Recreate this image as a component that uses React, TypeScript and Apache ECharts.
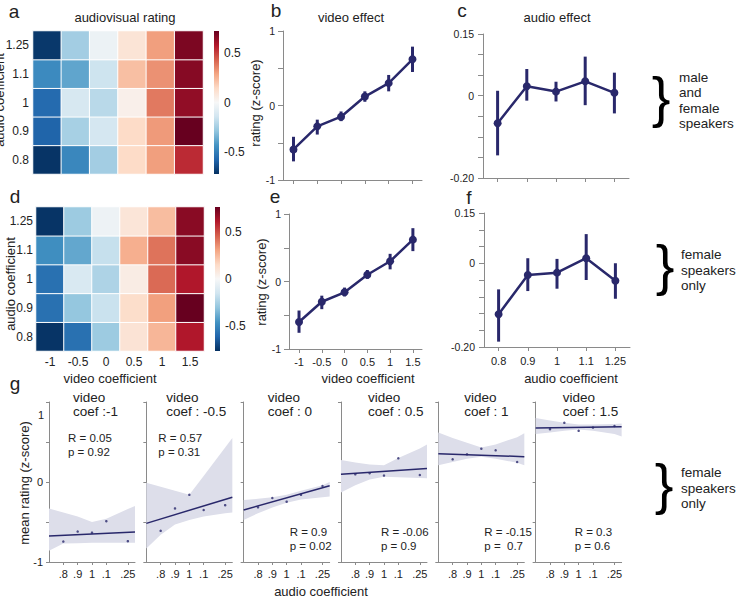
import React, { useEffect, useRef } from 'react';
import * as echarts from 'echarts';

// ---------- data ----------
const videoCoefs = [-1, -0.5, 0, 0.5, 1, 1.5];
const videoLabels = ['-1', '-0.5', '0', '0.5', '1', '1.5'];
const audioCoefs = [0.8, 0.9, 1, 1.1, 1.25];
const audioLabels = ['0.8', '0.9', '1', '1.1', '1.25'];
const audioShortLabels = ['.8', '.9', '1', '.1', '.25'];

// heatmap rows: audio 0.8 (bottom) ... 1.25 (top); columns video -1 ... 1.5
const heatA = [
  [-0.71, -0.47, -0.25, 0.14, 0.30, 0.54],
  [-0.58, -0.24, -0.13, 0.14, 0.31, 0.72],
  [-0.56, -0.12, -0.20, 0.04, 0.38, 0.64],
  [-0.46, -0.38, -0.15, 0.22, 0.33, 0.66],
  [-0.70, -0.25, -0.04, 0.10, 0.30, 0.68],
];
const heatD = [
  [-0.76, -0.58, -0.28, 0.11, 0.26, 0.62],
  [-0.58, -0.30, -0.17, 0.14, 0.32, 0.77],
  [-0.58, -0.12, -0.24, 0.06, 0.44, 0.62],
  [-0.48, -0.40, -0.18, 0.28, 0.42, 0.70],
  [-0.76, -0.28, -0.04, 0.10, 0.24, 0.70],
];
const heatARange = 0.72;
const heatDRange = 0.77;
const colorbarTicks = [-0.5, 0, 0.5];

// b: video effect, male and female speakers
const videoEffectAll = [-0.59, -0.28, -0.15, 0.12, 0.30, 0.62];
const videoEffectAllLo = [-0.75, -0.39, -0.21, 0.05, 0.19, 0.45];
const videoEffectAllHi = [-0.42, -0.19, -0.08, 0.19, 0.41, 0.79];
// e: video effect, female speakers only
const videoEffectFem = [-0.60, -0.30, -0.16, 0.10, 0.30, 0.62];
const videoEffectFemLo = [-0.76, -0.41, -0.22, 0.04, 0.18, 0.45];
const videoEffectFemHi = [-0.43, -0.21, -0.09, 0.17, 0.41, 0.79];
// c: audio effect, male and female speakers
const audioEffectAll = [-0.067, 0.023, 0.010, 0.035, 0.007];
const audioEffectAllLo = [-0.145, -0.012, -0.014, -0.023, -0.043];
const audioEffectAllHi = [0.012, 0.065, 0.034, 0.095, 0.056];
// f: audio effect, female speakers only
const audioEffectFem = [-0.152, -0.035, -0.028, 0.015, -0.052];
const audioEffectFemLo = [-0.234, -0.083, -0.076, -0.050, -0.106];
const audioEffectFemHi = [-0.078, 0.015, 0.013, 0.087, 0.0];

// g: per video coefficient, mean rating vs audio coefficient
const gCoefLabels = ['coef :-1', 'coef : -0.5', 'coef : 0', 'coef : 0.5', 'coef : 1', 'coef : 1.5'];
const gPoints = [
  [-0.745, -0.62, -0.633, -0.49, -0.74],
  [-0.61, -0.33, -0.16, -0.35, -0.29],
  [-0.317, -0.20, -0.246, -0.16, -0.05],
  [0.096, 0.11, 0.08, 0.296, 0.088],
  [0.283, 0.346, 0.417, 0.396, 0.25],
  [0.66, 0.74, 0.64, 0.68, 0.70],
];
const gFitX = [0.7, 1.3];
const gFit = [
  [-0.675, -0.625],
  [-0.517, -0.19],
  [-0.35, -0.046],
  [0.096, 0.17],
  [0.354, 0.317],
  [0.675, 0.69],
];
const gBandX = [0.7, 0.8, 0.9, 1.0, 1.1, 1.25, 1.3];
const gBandUpper = [
  [-0.33, -0.38, -0.43, -0.50, -0.46, -0.336, -0.30],
  [-0.01, -0.06, -0.11, -0.16, 0.075, 0.43, 0.55],
  [-0.225, -0.21, -0.19, -0.16, -0.11, -0.04, 0.0],
  [0.275, 0.245, 0.22, 0.21, 0.30, 0.42, 0.47],
  [0.62, 0.55, 0.49, 0.43, 0.47, 0.56, 0.61],
  [0.80, 0.77, 0.74, 0.72, 0.72, 0.725, 0.73],
];
const gBandLower = [
  [-0.86, -0.77, -0.765, -0.76, -0.76, -0.758, -0.758],
  [-0.83, -0.66, -0.53, -0.475, -0.43, -0.39, -0.38],
  [-0.475, -0.39, -0.32, -0.26, -0.22, -0.19, -0.18],
  [-0.13, -0.04, 0.03, 0.065, 0.06, 0.05, 0.046],
  [0.21, 0.25, 0.29, 0.315, 0.29, 0.24, 0.21],
  [0.60, 0.62, 0.64, 0.655, 0.64, 0.60, 0.57],
];
const gR = ['0.05', '0.57', '0.9', '-0.06', '-0.15', '0.3'];
const gP = ['0.92', '0.31', '0.02', '0.9', ' 0.7', '0.6'];

// ---------- style ----------
const NAVY = '#29286b';
const AXIS = '#8a8a8a';
const TEXT = '#222222';
const BAND = '#dddeea';
const FONT = '"Liberation Sans", Arial, Helvetica, sans-serif';
const RDBU = ['#053061', '#2166ac', '#4393c3', '#92c5de', '#d1e5f0', '#f7f7f7', '#fddbc7', '#f4a582', '#d6604d', '#b2182b', '#67001f'];

const gLeft = (i: number) => 49 + i * 97.33;
const gTitleOffset = [24, 20, 24, 27, 26, 27];
const gStatOffset = [19, 12, 46, 40, 46, 39];
const gStatTop = [438, 438, 532, 532, 532, 532];

const near = (a: number, b: number) => Math.abs(a - b) < 1e-6;

function txt(text: string, x: number, y: number, size: number, extra: any = {}, rot = 0) {
  const align = extra.align || 'center';
  const va = extra.va || 'middle';
  return {
    type: 'text',
    x,
    y,
    rotation: rot,
    silent: true,
    style: {
      text,
      fontSize: size,
      fontFamily: FONT,
      fill: extra.fill || TEXT,
      fontWeight: extra.weight || 'normal',
      lineHeight: extra.lineHeight,
      align,
      verticalAlign: va,
      textAlign: align,
      textVerticalAlign: va,
    },
  };
}

function buildOption() {
  const grid: any[] = [];
  const xAxis: any[] = [];
  const yAxis: any[] = [];
  const series: any[] = [];
  const graphic: any[] = [];

  const addGrid = (g: any) => {
    grid.push({ ...g, outerBoundsMode: 'none', containLabel: false });
    return grid.length - 1;
  };
  const axisLine = { show: true, onZero: false, lineStyle: { color: AXIS, width: 1 } };
  const tick = (len: number, extra: any = {}) => ({ show: true, length: len, lineStyle: { color: AXIS, width: 1 }, ...extra });
  const lbl = (show: boolean, size: number, margin: number, extra: any = {}) => ({
    show, fontSize: size, margin, color: TEXT, fontFamily: FONT, ...extra,
  });
  const noSplit = { show: false };

  // ---- heatmaps ----
  const heatmap = (g: any, data: number[][], showX: boolean, yMargin: number) => {
    const gi = addGrid(g);
    xAxis.push({
      gridIndex: gi, type: 'category', data: videoLabels,
      axisLine: { show: false }, axisTick: { show: false },
      axisLabel: lbl(showX, 12, 5), splitLine: noSplit,
    });
    yAxis.push({
      gridIndex: gi, type: 'category', data: audioLabels,
      axisLine: { show: false }, axisTick: { show: false },
      axisLabel: lbl(true, 12, yMargin), splitLine: noSplit,
    });
    series.push({
      type: 'heatmap', xAxisIndex: gi, yAxisIndex: gi,
      data: data.flatMap((row, r) => row.map((v, c) => [c, r, v])),
      itemStyle: { borderColor: '#ffffff', borderWidth: 1 },
      emphasis: { disabled: true },
    });
    return series.length - 1;
  };
  const sA = heatmap({ left: 33, top: 31, width: 170, height: 143 }, heatA, false, 4);
  const sD = heatmap({ left: 36, top: 207, width: 168, height: 144 }, heatD, true, 3);

  // ---- colorbars ----
  const colorbar = (g: any, range: number) => {
    const gi = addGrid(g);
    xAxis.push({ gridIndex: gi, type: 'value', show: false, min: 0, max: 1 });
    yAxis.push({
      gridIndex: gi, type: 'value', min: -range, max: range, position: 'right',
      axisLine: { show: false },
      axisTick: { show: true, length: 3, customValues: colorbarTicks, lineStyle: { color: '#333', width: 1 } },
      axisLabel: lbl(true, 12, 5, { customValues: colorbarTicks }),
      splitLine: noSplit,
    });
    series.push({
      type: 'custom', xAxisIndex: gi, yAxisIndex: gi, silent: true,
      data: [[0.5, 0]],
      renderItem: (params: any) => {
        const cs = params.coordSys;
        return {
          type: 'rect',
          shape: { x: cs.x, y: cs.y, width: cs.width, height: cs.height },
          style: {
            fill: new echarts.graphic.LinearGradient(0, 1, 0, 0,
              RDBU.map((c, i) => ({ offset: i / (RDBU.length - 1), color: c }))),
          },
        };
      },
    });
  };
  colorbar({ left: 214, top: 31, width: 5, height: 143 }, heatARange);
  colorbar({ left: 215, top: 207, width: 5, height: 144 }, heatDRange);

  // ---- error bar helper ----
  const errorBars = (gi: number, xs: number[], lo: number[], hi: number[]) => ({
    type: 'custom', xAxisIndex: gi, yAxisIndex: gi, silent: true, z: 3,
    data: xs.map((x, i) => [x, lo[i], hi[i]]),
    renderItem: (params: any, api: any) => {
      const p1 = api.coord([api.value(0), api.value(1)]);
      const p2 = api.coord([api.value(0), api.value(2)]);
      return {
        type: 'line',
        shape: { x1: p1[0], y1: p1[1], x2: p2[0], y2: p2[1] },
        style: { stroke: NAVY, lineWidth: 3 },
      };
    },
  });
  const meanLine = (gi: number, data: any[]) => ({
    type: 'line', xAxisIndex: gi, yAxisIndex: gi, z: 4, silent: true,
    data, symbol: 'circle', symbolSize: 8,
    itemStyle: { color: NAVY }, lineStyle: { color: NAVY, width: 2.5 },
  });

  // ---- video effect panels (b, e) ----
  const videoPanel = (g: any, mean: number[], lo: number[], hi: number[], showX: boolean) => {
    const gi = addGrid(g);
    xAxis.push({
      gridIndex: gi, type: 'value', min: -1.22, max: 1.7,
      axisLine, axisTick: tick(4, { customValues: videoCoefs }),
      axisLabel: lbl(showX, 11, 7, {
        customValues: videoCoefs,
        formatter: (v: number) => videoLabels[videoCoefs.findIndex((c) => near(c, v))] ?? '',
      }),
      splitLine: noSplit,
    });
    yAxis.push({
      gridIndex: gi, type: 'value', min: -1, max: 1, interval: 0.5,
      axisLine, axisTick: tick(5),
      axisLabel: lbl(true, 10.5, 8, {
        formatter: (v: number) => (near(v, 1) ? '1' : near(v, 0) ? '0' : near(v, -1) ? '-1' : ''),
      }),
      splitLine: noSplit,
    });
    series.push(errorBars(gi, videoCoefs, lo, hi));
    series.push(meanLine(gi, videoCoefs.map((x, i) => [x, mean[i]])));
  };
  videoPanel({ left: 283, top: 31, width: 139, height: 149 }, videoEffectAll, videoEffectAllLo, videoEffectAllHi, false);
  videoPanel({ left: 289, top: 214, width: 133, height: 135 }, videoEffectFem, videoEffectFemLo, videoEffectFemHi, true);

  // ---- audio effect panels (c, f) ----
  const audioPanel = (g: any, mean: number[], lo: number[], hi: number[], showX: boolean, ymin: number, minLabel: string) => {
    const gi = addGrid(g);
    xAxis.push({
      gridIndex: gi, type: 'category', data: audioLabels, boundaryGap: true,
      axisLine, axisTick: tick(4, { alignWithLabel: true }),
      axisLabel: lbl(showX, 11, 8),
      splitLine: noSplit,
    });
    yAxis.push({
      gridIndex: gi, type: 'value', min: ymin, max: 0.15, interval: 0.05,
      axisLine, axisTick: tick(5),
      axisLabel: lbl(true, 10.5, 9, {
        formatter: (v: number) => (near(v, 0.15) ? '0.15' : near(v, 0) ? '0' : near(v, ymin) ? minLabel : ''),
      }),
      splitLine: noSplit,
    });
    series.push(errorBars(gi, audioCoefs.map((_, i) => i), lo, hi));
    series.push(meanLine(gi, mean));
  };
  audioPanel({ left: 483, top: 34, width: 146, height: 144 }, audioEffectAll, audioEffectAllLo, audioEffectAllHi, false, -0.2, '-0.20');
  audioPanel({ left: 484, top: 213, width: 146, height: 134 }, audioEffectFem, audioEffectFemLo, audioEffectFemHi, true, -0.25, '-0.20');

  // ---- g panels ----
  gPoints.forEach((pts, k) => {
    const gi = addGrid({ left: gLeft(k), top: 402, width: 86, height: 160 });
    xAxis.push({
      gridIndex: gi, type: 'value', min: 0.7, max: 1.3,
      axisLine, axisTick: tick(3, { customValues: audioCoefs }),
      axisLabel: lbl(true, 11, 6, {
        customValues: audioCoefs,
        formatter: (v: number) => audioShortLabels[audioCoefs.findIndex((c) => near(c, v))] ?? '',
      }),
      splitLine: noSplit,
    });
    yAxis.push({
      gridIndex: gi, type: 'value', min: -1, max: 1, interval: 0.5,
      axisLine, axisTick: tick(3),
      axisLabel: lbl(k === 0, 11, 6, {
        formatter: (v: number) => (near(v, 0) ? '0' : near(v, -1) ? '-1' : ''),
      }),
      splitLine: noSplit,
    });
    const up = gBandUpper[k];
    const lo = gBandLower[k];
    series.push({
      type: 'custom', xAxisIndex: gi, yAxisIndex: gi, silent: true, z: 1,
      data: [[1, 0]],
      renderItem: (params: any, api: any) => {
        const points: number[][] = [];
        gBandX.forEach((x, i) => points.push(api.coord([x, up[i]])));
        for (let i = gBandX.length - 1; i >= 0; i--) points.push(api.coord([gBandX[i], lo[i]]));
        return { type: 'polygon', shape: { points }, style: { fill: BAND } };
      },
    });
    series.push({
      type: 'line', xAxisIndex: gi, yAxisIndex: gi, silent: true, z: 3,
      data: gFitX.map((x, i) => [x, gFit[k][i]]),
      symbol: 'none', lineStyle: { color: NAVY, width: 1.5 },
    });
    series.push({
      type: 'scatter', xAxisIndex: gi, yAxisIndex: gi, silent: true, z: 4,
      data: audioCoefs.map((x, i) => [x, pts[i]]),
      symbolSize: 2.5, itemStyle: { color: NAVY },
    });
    const tx = gLeft(k) + gTitleOffset[k];
    graphic.push(txt('video', tx, 397, 13.5, { align: 'left' }));
    graphic.push(txt(gCoefLabels[k], tx, 411, 13.5, { align: 'left' }));
    const sx = gLeft(k) + gStatOffset[k];
    graphic.push(txt('R = ' + gR[k], sx, gStatTop[k], 11.5, { align: 'left' }));
    graphic.push(txt('p = ' + gP[k], sx, gStatTop[k] + 14, 11.5, { align: 'left' }));
  });

  // ---- texts ----
  graphic.push(txt('a', 14, 11, 19));
  graphic.push(txt('b', 276, 10, 19));
  graphic.push(txt('c', 462, 10, 19));
  graphic.push(txt('d', 15, 196, 19));
  graphic.push(txt('e', 275, 196, 19));
  graphic.push(txt('f', 469, 197, 19));
  graphic.push(txt('g', 15, 383, 19));

  graphic.push(txt('audiovisual rating', 125, 17, 13));
  graphic.push(txt('video effect', 351, 17, 13));
  graphic.push(txt('audio effect', 557, 17, 13));

  graphic.push(txt('audio coefficient', -1, 100, 13, {}, Math.PI / 2));
  graphic.push(txt('audio coefficient', 10, 284, 13, {}, Math.PI / 2));
  graphic.push(txt('rating (z-score)', 255, 103, 13, {}, Math.PI / 2));
  graphic.push(txt('rating (z-score)', 261, 282, 13, {}, Math.PI / 2));
  graphic.push(txt('mean rating (z-score)', 24, 483, 13, {}, Math.PI / 2));

  graphic.push(txt('video coefficient', 110, 378, 13));
  graphic.push(txt('video coefficient', 368, 378, 13));
  graphic.push(txt('audio coefficient', 571, 378, 13));
  graphic.push(txt('audio coefficient', 321, 591, 13));

  graphic.push(txt('1', 44, 415, 11, { align: 'right' }));

  graphic.push(txt('}', 661, 96, 56, { fill: '#000' }));
  graphic.push(txt('}', 665, 264, 56, { fill: '#000' }));
  graphic.push(txt('}', 664, 483, 56, { fill: '#000' }));
  graphic.push(txt('male\nand\nfemale\nspeakers', 679, 100.5, 13.5, { align: 'left', lineHeight: 15.6 }));
  graphic.push(txt('female\nspeakers\nonly', 681, 270, 13.5, { align: 'left', lineHeight: 15.6 }));
  graphic.push(txt('female\nspeakers\nonly', 681, 488, 13.5, { align: 'left', lineHeight: 15.6 }));

  return {
    animation: false,
    backgroundColor: '#ffffff',
    textStyle: { fontFamily: FONT },
    grid, xAxis, yAxis, series, graphic,
    visualMap: [
      { type: 'continuous', show: false, seriesIndex: sA, dimension: 2, min: -heatARange, max: heatARange, inRange: { color: RDBU } },
      { type: 'continuous', show: false, seriesIndex: sD, dimension: 2, min: -heatDRange, max: heatDRange, inRange: { color: RDBU } },
    ],
  };
}

export default function App() {
  const ref = useRef<HTMLDivElement>(null);
  useEffect(() => {
    if (!ref.current) return;
    const chart = echarts.init(ref.current, null, { renderer: 'svg' });
    chart.setOption(buildOption() as any);
    return () => chart.dispose();
  }, []);
  return (
    <div
      ref={ref}
      style={{ position: 'absolute', left: 0, top: 0, width: 744, height: 597, background: '#fff' }}
    />
  );
}
